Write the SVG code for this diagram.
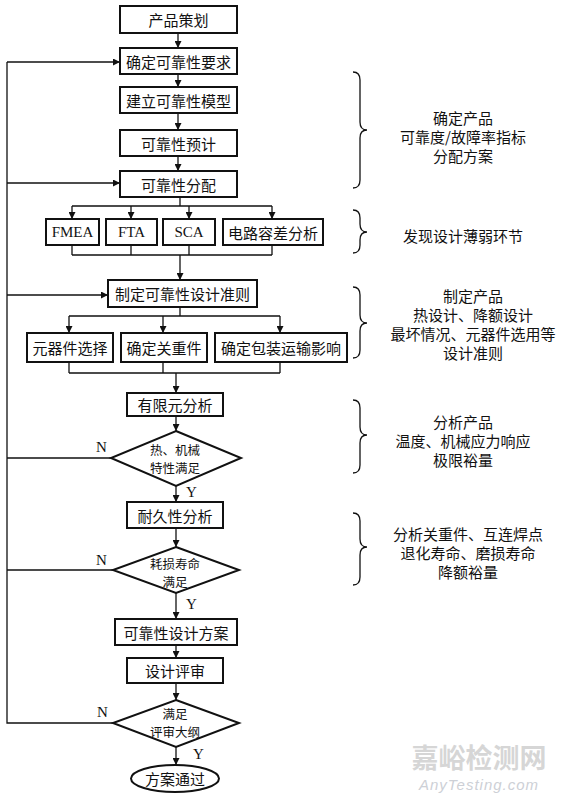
<svg xmlns="http://www.w3.org/2000/svg" width="561" height="800" viewBox="0 0 561 800">
<defs>
<marker id="ah" viewBox="0 0 10 10" refX="10" refY="5" markerWidth="7" markerHeight="7" markerUnits="userSpaceOnUse" orient="auto">
<path d="M0,0 L10,5 L0,10 z" fill="#111"/>
</marker>
<style>
.box{fill:#fff;stroke:#111;stroke-width:2}
.t{font-family:"Noto Sans CJK SC","Liberation Serif",serif;font-size:15px;fill:#111;text-anchor:middle;dominant-baseline:central}
.d{font-family:"Noto Sans CJK SC","Liberation Serif",serif;font-size:12.5px;fill:#111;text-anchor:middle;dominant-baseline:central}
.l{font-family:"Liberation Serif","Noto Sans CJK SC",serif;font-size:15px;fill:#111;text-anchor:middle;dominant-baseline:central}
.yn{font-family:"Liberation Serif",serif;font-size:15px;fill:#111}
.c{fill:none;stroke:#111;stroke-width:1.3}
.a{fill:none;stroke:#111;stroke-width:1.3;marker-end:url(#ah)}
.br{fill:none;stroke:#111;stroke-width:1.3}
</style>
</defs>
<rect width="561" height="800" fill="#fff"/>

<g id="connectors">
<path class="a" d="M178,33 V48"/>
<path class="a" d="M178,74 V87"/>
<path class="a" d="M178,113 V130"/>
<path class="a" d="M178,156 V171"/>
<path class="c" d="M180,197 V206 M72,206 H272"/>
<path class="a" d="M72,206 V219"/>
<path class="a" d="M131,206 V219"/>
<path class="a" d="M189,206 V219"/>
<path class="a" d="M272,206 V219"/>
<path class="c" d="M72,245 V255 M131,245 V255 M189,245 V255 M272,245 V255 M72,255 H272"/>
<path class="a" d="M180,255 V280"/>
<path class="c" d="M180,307 V316 M69,316 H280"/>
<path class="a" d="M69,316 V333"/>
<path class="a" d="M163,316 V333"/>
<path class="a" d="M280,316 V333"/>
<path class="c" d="M69,362 V373 M163,362 V373 M280,362 V373 M69,373 H280"/>
<path class="a" d="M176,373 V393"/>
<path class="a" d="M176,416 V431"/>
<path class="a" d="M176,486 V502"/>
<path class="a" d="M176,528 V547"/>
<path class="a" d="M176,593 V619"/>
<path class="a" d="M176,645 V658"/>
<path class="a" d="M176,683 V700"/>
<path class="a" d="M176,747 V765"/>
<path class="c" d="M111,458 H7 M113,570 H7 M113,723 H7 V62"/>
<path class="a" d="M7,62 H120"/>
<path class="a" d="M7,183 H120"/>
<path class="a" d="M7,295 H108"/>
<text class="yn" x="96" y="452">N</text>
<text class="yn" x="96" y="565">N</text>
<text class="yn" x="97" y="717">N</text>
<text class="yn" x="186" y="497">Y</text>
<text class="yn" x="186" y="609">Y</text>
<text class="yn" x="193" y="759">Y</text>
</g>

<g id="n1"><rect class="box" x="120" y="6" width="117" height="27"/><text class="t" x="178.5" y="19.5">产品策划</text></g>
<g id="n2"><rect class="box" x="120" y="48" width="117" height="26"/><text class="t" x="178.5" y="61">确定可靠性要求</text></g>
<g id="n3"><rect class="box" x="120" y="87" width="117" height="26"/><text class="t" x="178.5" y="100">建立可靠性模型</text></g>
<g id="n4"><rect class="box" x="120" y="130" width="117" height="26"/><text class="t" x="178.5" y="143">可靠性预计</text></g>
<g id="n5"><rect class="box" x="120" y="171" width="117" height="26"/><text class="t" x="178.5" y="184">可靠性分配</text></g>

<g id="fmea"><rect class="box" x="46" y="219" width="53" height="26"/><text class="l" x="72.5" y="232">FMEA</text></g>
<g id="fta"><rect class="box" x="106" y="219" width="51" height="26"/><text class="l" x="131.5" y="232">FTA</text></g>
<g id="sca"><rect class="box" x="163" y="219" width="52" height="26"/><text class="l" x="189" y="232">SCA</text></g>
<g id="tol"><rect class="box" x="223" y="219" width="100" height="26"/><text class="t" x="273" y="232">电路容差分析</text></g>

<g id="n6"><rect class="box" x="108" y="280" width="149" height="27"/><text class="t" x="182.5" y="293.5">制定可靠性设计准则</text></g>

<g id="c1"><rect class="box" x="27" y="333" width="86" height="29"/><text class="t" x="70" y="347.5">元器件选择</text></g>
<g id="c2"><rect class="box" x="121" y="333" width="86" height="29"/><text class="t" x="164" y="347.5">确定关重件</text></g>
<g id="c3"><rect class="box" x="215" y="333" width="132" height="29"/><text class="t" x="281" y="347.5">确定包装运输影响</text></g>

<g id="n7"><rect class="box" x="127" y="393" width="96" height="23"/><text class="t" x="175" y="404.5">有限元分析</text></g>
<g id="d1"><polygon class="box" points="176,431 241,458 176,486 111,458"/><text class="d" x="175" y="449">热、机械</text><text class="d" x="175" y="467.5">特性满足</text></g>
<g id="n8"><rect class="box" x="127" y="502" width="96" height="26"/><text class="t" x="175" y="515">耐久性分析</text></g>
<g id="d2"><polygon class="box" points="176,547 239,570 176,593 113,570"/><text class="d" x="175" y="563">耗损寿命</text><text class="d" x="175" y="581.5">满足</text></g>
<g id="n9"><rect class="box" x="115" y="619" width="122" height="26"/><text class="t" x="176" y="632">可靠性设计方案</text></g>
<g id="n10"><rect class="box" x="127" y="658" width="96" height="25"/><text class="t" x="175" y="670.5">设计评审</text></g>
<g id="d3"><polygon class="box" points="176,700 239,723 176,747 113,723"/><text class="d" x="175" y="713">满足</text><text class="d" x="175" y="731.5">评审大纲</text></g>
<g id="end"><ellipse class="box" cx="175" cy="778.5" rx="44" ry="13.5"/><text class="t" x="175" y="778.5">方案通过</text></g>

<g id="note1">
<path class="br" d="M353,72 Q360,72 360,80 V122 Q360,130 367,130 Q360,130 360,138 V180 Q360,188 353,188"/>
<text class="t" x="463" y="117">确定产品</text>
<text class="t" x="463" y="136">可靠度/故障率指标</text>
<text class="t" x="463" y="155">分配方案</text>
</g>
<g id="note2">
<path class="br" d="M353,210 Q360,210 360,218 V224 Q360,232 367,232 Q360,232 360,240 V245 Q360,253 353,253"/>
<text class="t" x="463" y="235">发现设计薄弱环节</text>
</g>
<g id="note3">
<path class="br" d="M353,287 Q360,287 360,295 V315 Q360,323 367,323 Q360,323 360,331 V350 Q360,358 353,358"/>
<text class="t" x="473" y="295">制定产品</text>
<text class="t" x="473" y="314">热设计、降额设计</text>
<text class="t" x="473" y="333">最坏情况、元器件选用等</text>
<text class="t" x="473" y="352">设计准则</text>
</g>
<g id="note4">
<path class="br" d="M353,400 Q360,400 360,408 V427 Q360,435 367,435 Q360,435 360,443 V465 Q360,473 353,473"/>
<text class="t" x="463" y="421">分析产品</text>
<text class="t" x="463" y="440">温度、机械应力响应</text>
<text class="t" x="463" y="459">极限裕量</text>
</g>
<g id="note5">
<path class="br" d="M353,513 Q360,513 360,521 V539 Q360,547 367,547 Q360,547 360,555 V577 Q360,585 353,585"/>
<text class="t" x="468" y="533">分析关重件、互连焊点</text>
<text class="t" x="468" y="552">退化寿命、磨损寿命</text>
<text class="t" x="468" y="571">降额裕量</text>
</g>

<g id="watermark">
<text x="479" y="768" font-family="'Noto Sans CJK SC',sans-serif" font-size="27" fill="#d6d6d6" text-anchor="middle" font-weight="bold">嘉峪检测网</text>
<text x="479" y="790" font-family="'Liberation Sans',sans-serif" font-size="15" font-style="italic" fill="#cdd0d6" text-anchor="middle" letter-spacing="1">AnyTesting.com</text>
</g>
</svg>
